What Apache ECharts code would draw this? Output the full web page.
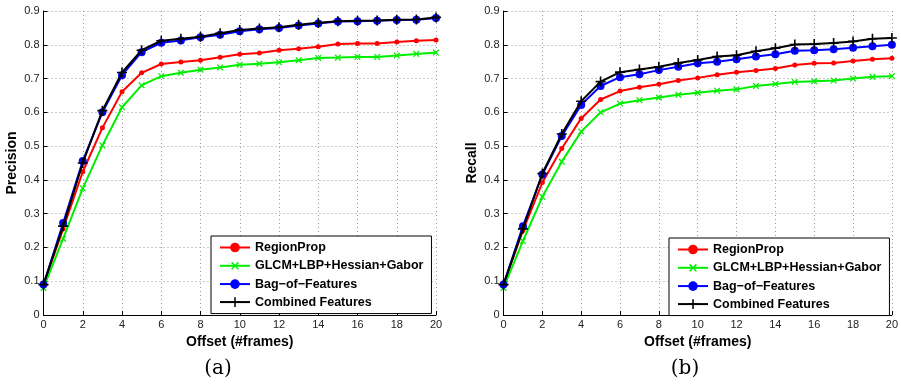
<!DOCTYPE html>
<html>
<head>
<meta charset="utf-8">
<script src="https://cdn.jsdelivr.net/npm/echarts@6/dist/echarts.min.js"></script>
<style>
  html, body { margin: 0; padding: 0; background: #fff; }
  #chart { width: 901px; height: 384px; }
</style>
</head>
<body>
<div id="chart"></div>
<script>
// offsets (#frames)
const offsets = [0, 1, 2, 3, 4, 5, 6, 7, 8, 9, 10, 11, 12, 13, 14, 15, 16, 17, 18, 19, 20]
const seriesNames = ['RegionProp', 'GLCM+LBP+Hessian+Gabor', 'Bag\u2212of\u2212Features', 'Combined Features']

// precision, plot (a)
const precRegion = [0.09, 0.255, 0.424, 0.554, 0.661, 0.717, 0.743, 0.749, 0.754, 0.763, 0.772, 0.776, 0.784, 0.788, 0.794, 0.802, 0.804, 0.804, 0.808, 0.812, 0.814]
const precGlcm = [0.08, 0.226, 0.375, 0.502, 0.615, 0.68, 0.707, 0.717, 0.726, 0.733, 0.741, 0.744, 0.748, 0.754, 0.761, 0.762, 0.764, 0.764, 0.768, 0.773, 0.777]
const precBag = [0.09, 0.272, 0.456, 0.6, 0.71, 0.778, 0.806, 0.813, 0.822, 0.83, 0.84, 0.846, 0.85, 0.857, 0.863, 0.869, 0.87, 0.871, 0.873, 0.874, 0.879]
const precComb = [0.09, 0.263, 0.45, 0.605, 0.718, 0.784, 0.812, 0.818, 0.824, 0.834, 0.844, 0.848, 0.852, 0.859, 0.865, 0.87, 0.871, 0.872, 0.874, 0.875, 0.881]

// recall, plot (b)
const recRegion = [0.09, 0.25, 0.392, 0.493, 0.582, 0.638, 0.663, 0.674, 0.683, 0.694, 0.702, 0.711, 0.719, 0.724, 0.73, 0.74, 0.745, 0.746, 0.752, 0.757, 0.76]
const recGlcm = [0.08, 0.219, 0.35, 0.454, 0.543, 0.6, 0.626, 0.636, 0.644, 0.652, 0.658, 0.664, 0.668, 0.678, 0.684, 0.69, 0.692, 0.694, 0.7, 0.705, 0.707]
const recBag = [0.09, 0.263, 0.416, 0.53, 0.622, 0.678, 0.704, 0.713, 0.725, 0.735, 0.745, 0.75, 0.757, 0.765, 0.772, 0.782, 0.784, 0.787, 0.791, 0.796, 0.8]
const recComb = [0.09, 0.255, 0.419, 0.536, 0.633, 0.691, 0.719, 0.727, 0.735, 0.746, 0.755, 0.765, 0.769, 0.781, 0.79, 0.801, 0.802, 0.805, 0.81, 0.818, 0.82]

const FONT = 'Liberation Sans'
const PLUS = 'path://M4.2,0H5.8V4.2H10V5.8H5.8V10H4.2V5.8H0V4.2H4.2Z'

const styles = [
  { color: '#ff0000', symbol: 'circle', size: 5, rotate: 0 },
  { color: '#00ee00', symbol: PLUS, size: 8, rotate: 45 },
  { color: '#0000ff', symbol: 'circle', size: 8, rotate: 0 },
  { color: '#000000', symbol: PLUS, size: 10, rotate: 0 },
]

const chart = echarts.init(document.getElementById('chart'))

function makeSeries(values, idx) {
  return values.map((v, i) => ({
    name: seriesNames[i],
    type: 'line',
    xAxisIndex: idx,
    yAxisIndex: idx,
    data: offsets.map((x, j) => [x, v[j]]),
    symbol: styles[i].symbol,
    symbolSize: styles[i].size,
    symbolRotate: styles[i].rotate,
    showAllSymbol: true,
    lineStyle: { color: styles[i].color, width: 2 },
    itemStyle: { color: styles[i].color },
    emphasis: { disabled: true },
    animation: false,
    z: 2 + i,
  }))
}

function xAxis(idx) {
  return {
    type: 'value', gridIndex: idx, min: 0, max: 20, interval: 2,
    name: 'Offset (#frames)', nameLocation: 'middle', nameGap: 19,
    nameTextStyle: { fontFamily: FONT, fontWeight: 'bold', fontSize: 14, color: '#000' },
    axisLine: { lineStyle: { color: '#000', width: 1 } },
    axisTick: { inside: true, length: 4, lineStyle: { color: '#000' } },
    axisLabel: { fontFamily: FONT, fontSize: 11, color: '#222', margin: 4 },
    splitLine: { show: true, lineStyle: { type: [1, 3], color: '#999' } },
  }
}

function yAxis(idx, name) {
  return {
    type: 'value', gridIndex: idx, min: 0, max: 0.9, interval: 0.1,
    name: name, nameLocation: 'middle', nameGap: 24,
    nameTextStyle: { fontFamily: FONT, fontWeight: 'bold', fontSize: 14, color: '#000' },
    axisLine: { show: true, lineStyle: { color: '#000', width: 1 } },
    axisTick: { show: true, inside: true, length: 4, lineStyle: { color: '#000' } },
    axisLabel: { fontFamily: FONT, fontSize: 11, color: '#222', margin: 4 },
    splitLine: { show: true, lineStyle: { type: [1, 3], color: '#999' } },
  }
}

function legend(left, top) {
  return {
    data: seriesNames,
    orient: 'vertical',
    left: left, top: top,
    itemWidth: 30, itemHeight: 12, itemGap: 5,
    padding: [5, 8],
    backgroundColor: '#fff',
    borderColor: '#000', borderWidth: 1, borderRadius: 0,
    selectedMode: false,
    textStyle: { fontFamily: FONT, fontWeight: 'bold', fontSize: 12.5, color: '#000' },
  }
}

chart.setOption({
  animation: false,
  grid: [
    { left: 43.5, right: 465, top: 11, bottom: 69 },
    { left: 503.5, right: 5, top: 11, bottom: 69 },
  ],
  xAxis: [xAxis(0), xAxis(1)],
  yAxis: [yAxis(0, 'Precision'), yAxis(1, 'Recall')],
  legend: [legend(211, 236), legend(669, 238)],
  graphic: [
    { type: 'text', x: 218, y: 369, style: { text: '(a)', font: '20px "DejaVu Serif"', fill: '#000', textAlign: 'center', textVerticalAlign: 'middle' } },
    { type: 'text', x: 685, y: 369, style: { text: '(b)', font: '20px "DejaVu Serif"', fill: '#000', textAlign: 'center', textVerticalAlign: 'middle' } },
  ],
  series: [
    ...makeSeries([precRegion, precGlcm, precBag, precComb], 0),
    ...makeSeries([recRegion, recGlcm, recBag, recComb], 1),
  ],
})
</script>
</body>
</html>
